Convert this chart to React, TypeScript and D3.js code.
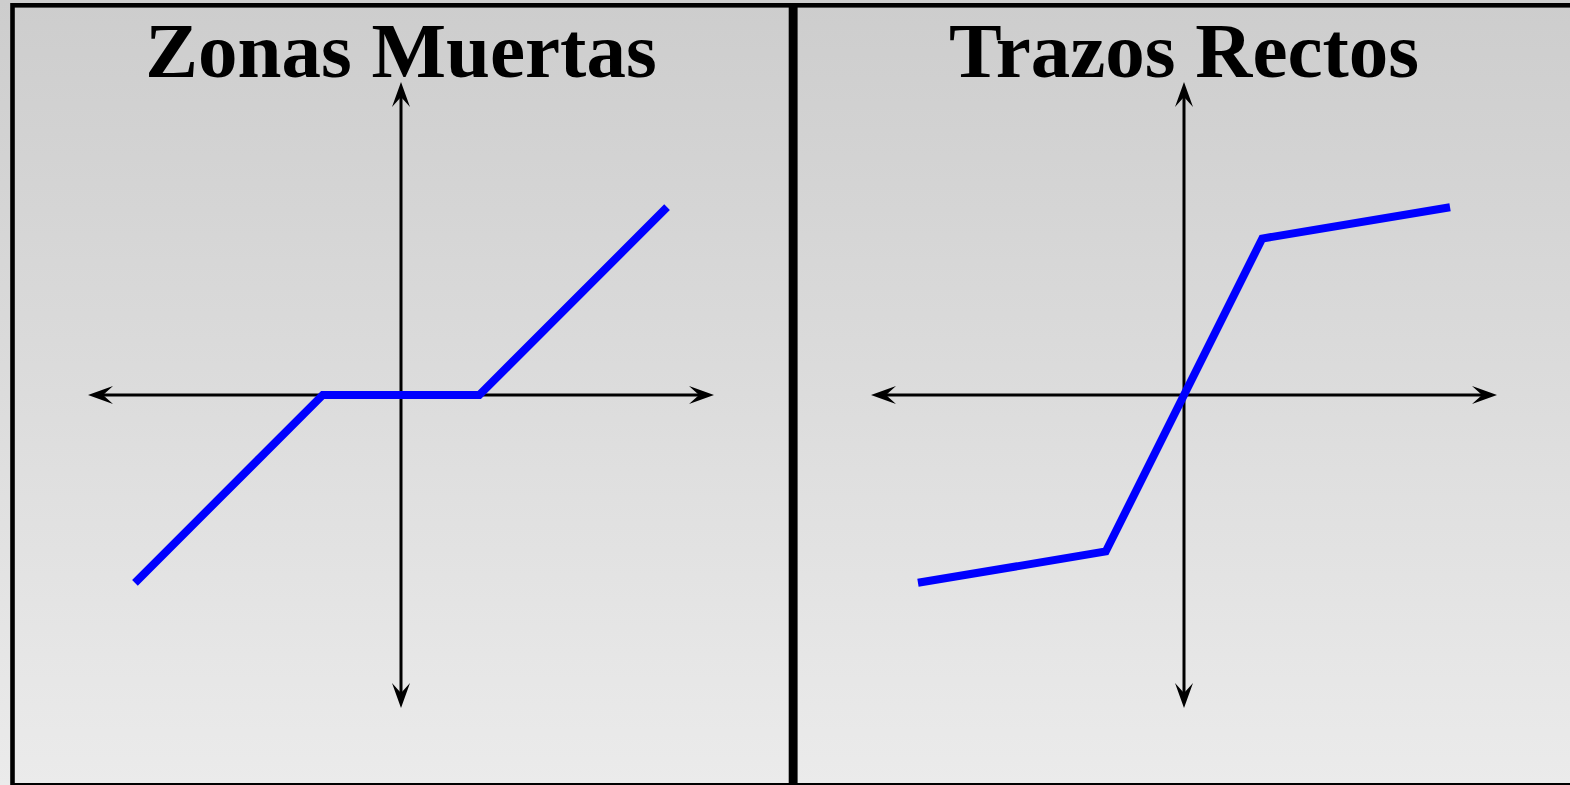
import React from "react";
import * as d3 from "d3";

const panelTitles = ["Zonas Muertas", "Trazos Rectos"];
const deadZoneX = [-3.4, -1, 1, 3.4];
const deadZoneY = [-2.4, 0, 0, 2.4];
const straightX = [-3.4, -1, 1, 3.4];
const straightY = [-2.4, -2, 2, 2.4];
const seriesX = [deadZoneX, straightX];
const seriesY = [deadZoneY, straightY];
const axisDomain = [-4, 4];

const W = 1570;
const H = 785;
const panelLeft = [12.5, 795.3];
const panelWidth = 778.5;
const axisCenters = [401, 1184];
const cy = 395;
const half = 313;

function Arrow({ x, y, angle }: { x: number; y: number; angle: number }) {
  return (
    <path
      d="M0,0 L-25,-9 L-15,0 L-25,9 Z"
      fill="#000"
      transform={`translate(${x},${y}) rotate(${angle})`}
    />
  );
}

function Panel({ i }: { i: number }) {
  const cx = axisCenters[i];
  const x = d3.scaleLinear().domain(axisDomain).range([cx - half, cx + half]);
  const y = d3.scaleLinear().domain(axisDomain).range([cy + half, cy - half]);
  const pts: [number, number][] = seriesX[i].map((v, k) => [v, seriesY[i][k]]);
  const line = d3
    .line<[number, number]>()
    .x((d) => x(d[0]))
    .y((d) => y(d[1]));
  const x0 = x(axisDomain[0]);
  const x1 = x(axisDomain[1]);
  const yTop = y(axisDomain[1]);
  const yBot = y(axisDomain[0]);
  return (
    <g>
      <rect
        x={panelLeft[i]}
        y={5.3}
        width={panelWidth}
        height={780}
        fill="none"
        stroke="#000"
        strokeWidth={4.6}
      />
      <text
        x={cx}
        y={77}
        textAnchor="middle"
        fontFamily="'Liberation Serif', 'Times New Roman', serif"
        fontWeight="bold"
        fontSize={79}
        fill="#000"
      >
        {panelTitles[i]}
      </text>
      <line x1={x0 + 12} x2={x1 - 12} y1={y(0)} y2={y(0)} stroke="#000" strokeWidth={3} />
      <line x1={x(0)} x2={x(0)} y1={yTop + 12} y2={yBot - 12} stroke="#000" strokeWidth={3} />
      <Arrow x={x0} y={y(0)} angle={180} />
      <Arrow x={x1} y={y(0)} angle={0} />
      <Arrow x={x(0)} y={yTop} angle={-90} />
      <Arrow x={x(0)} y={yBot} angle={90} />
      <path
        d={line(pts) || ""}
        fill="none"
        stroke="#0000ff"
        strokeWidth={8}
        strokeLinecap="butt"
        strokeLinejoin="miter"
      />
    </g>
  );
}

export default function App() {
  return (
    <svg
      width={W}
      height={H}
      style={{ position: "absolute", left: 0, top: 0, display: "block" }}
    >
      <defs>
        <linearGradient id="bg" x1="0" y1="0" x2="0" y2="1">
          <stop offset="0" stopColor="#cdcdcd" />
          <stop offset="1" stopColor="#ebebeb" />
        </linearGradient>
      </defs>
      <rect x={0} y={0} width={W} height={H} fill="url(#bg)" />
      <Panel i={0} />
      <Panel i={1} />
    </svg>
  );
}
